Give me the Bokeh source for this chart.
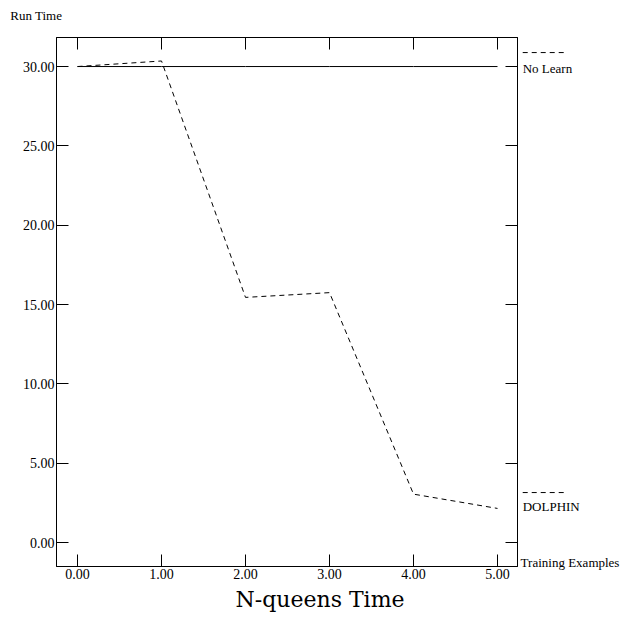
from bokeh.plotting import figure
from bokeh.layouts import row, column
from bokeh.models import (Range1d, LinearAxis, FixedTicker, Title,
                          NumeralTickFormatter, CustomJSTickFormatter)
from bokeh.core.properties import value
from bokeh.embed import file_html
from bokeh.resources import INLINE

# ---- data ----
x_vals = [0, 1, 2, 3, 4, 5]
no_learn = [30.0, 30.0, 30.0, 30.0, 30.0, 30.0]
dolphin = [30.0, 30.35, 15.45, 15.75, 3.05, 2.15]
x_ticks = [0, 1, 2, 3, 4, 5]
y_ticks = [0, 5, 10, 15, 20, 25, 30]
series_names = ["No Learn", "DOLPHIN"]
title_text = "N-queens Time"
y_title = "Run Time"
x_title = "Training Examples"

SERIF = "Liberation Serif"
X0, X1 = -0.25, 5.238
Y0, Y1 = -1.51, 31.83
px_per_x = 84.0
px_per_y = 529.0 / (Y1 - Y0)
TOP_H = 28

p = figure(width=519, height=620 - TOP_H, output_backend="svg", toolbar_location=None,
           x_range=Range1d(X0, X1), y_range=Range1d(Y0, Y1),
           x_axis_location=None, y_axis_location=None, title_location=None,
           min_border_left=56, min_border_right=2, min_border_top=37 - TOP_H,
           min_border_bottom=54)
p.grid.grid_line_color = None
p.outline_line_color = "black"
p.background_fill_color = "white"
p.border_fill_color = "white"


def make_axis(ticks, labels):
    ax = LinearAxis(ticker=FixedTicker(ticks=ticks))
    ax.major_tick_in = 12
    ax.major_tick_out = 0
    ax.minor_tick_line_color = None
    ax.axis_line_color = "black"
    ax.major_tick_line_color = "black"
    ax.major_label_text_font = SERIF
    ax.major_label_text_font_size = "14px"
    ax.major_label_text_color = "black"
    ax.major_label_standoff = 2
    if labels:
        ax.formatter = NumeralTickFormatter(format="0.00")
    else:
        ax.formatter = CustomJSTickFormatter(code="return ''")
        ax.major_label_standoff = 0
    return ax


p.add_layout(make_axis(x_ticks, True), "below")
p.add_layout(make_axis(x_ticks, False), "above")
p.add_layout(make_axis(y_ticks, True), "left")
p.add_layout(make_axis(y_ticks, False), "right")

p.line(x_vals, no_learn, line_color="black", line_width=1)
p.line(x_vals, dolphin, line_color="black", line_width=1, line_dash="5 4")

# chart title below
t_bot = Title(text=title_text, align="left", offset=179, text_font="DejaVu Serif",
              text_font_size="22px", text_font_style="normal", text_color="black",
              standoff=7)
p.add_layout(t_bot, "below")

# ---- top strip with the y-axis title ----
top = figure(width=519, height=TOP_H, output_backend="svg", toolbar_location=None,
             x_range=Range1d(X0 - 56 / px_per_x, X0 + 463 / px_per_x),
             y_range=Range1d(Y1 + (37 - TOP_H) / px_per_y, Y1 + 37 / px_per_y),
             x_axis_location=None, y_axis_location=None, title_location=None,
             min_border=0)
top.grid.grid_line_color = None
top.outline_line_color = None
top.background_fill_color = "white"
top.border_fill_color = "white"
top.text(x=[-0.80], y=[33.21], text=[y_title], text_font=value(SERIF),
         text_font_size="13px", text_baseline="middle", text_align="left", text_color="black")

# ---- side strip with the legend entries and x-axis title ----
s = figure(width=107, height=620, output_backend="svg", toolbar_location=None,
           x_range=Range1d(X1 + 2 / px_per_x, X1 + 109 / px_per_x),
           y_range=Range1d(Y0 - 54 / px_per_y, Y1 + 37 / px_per_y),
           x_axis_location=None, y_axis_location=None, title_location=None,
           min_border=0)
s.grid.grid_line_color = None
s.outline_line_color = None
s.background_fill_color = "white"
s.border_fill_color = "white"

leg_x0, leg_x1 = 5.30, 5.81
sample_y = [30.88, 3.15]
label_y = [29.87, 2.27]
for sy in sample_y:
    s.line([leg_x0, leg_x1], [sy, sy], line_color="black", line_width=1, line_dash="5 4")
s.text(x=[leg_x0, leg_x0], y=label_y, text=series_names, text_font=value(SERIF),
       text_font_size="13px", text_baseline="middle", text_align="left", text_color="black")
s.text(x=[5.275], y=[-1.26], text=[x_title], text_font=value(SERIF),
       text_font_size="13px", text_baseline="middle", text_align="left", text_color="black")

layout = row(column(column(top), p, spacing=0), column(s), spacing=0)
open("out.html", "w").write(file_html(layout, INLINE))
